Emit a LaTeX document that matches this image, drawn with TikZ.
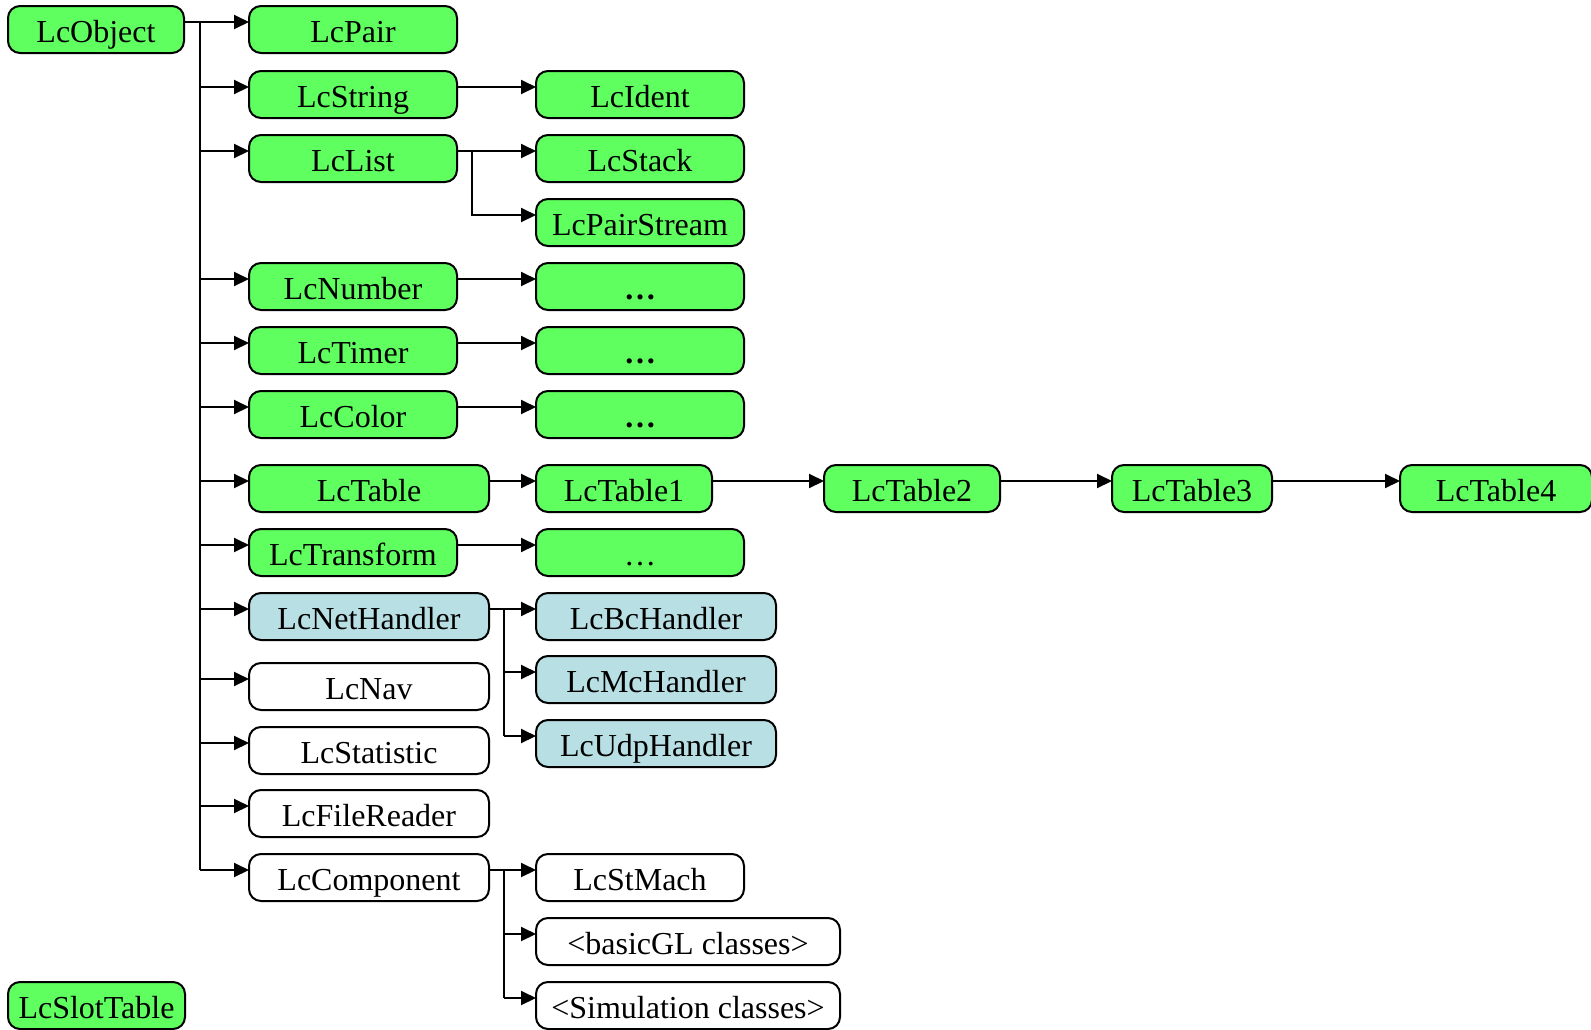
\documentclass[tikz,border=0pt]{standalone}
\usepackage{fontspec}
\setmainfont{Liberation Serif}
\usetikzlibrary{arrows.meta,calc}
\definecolor{clsgreen}{RGB}{96,255,96}
\definecolor{netblue}{RGB}{184,224,228}
\begin{document}
\begin{tikzpicture}[x=1pt,y=-1pt,
  cls/.style={draw=black, line width=2pt, rounded corners=12pt,
    minimum height=47pt, inner sep=0pt, outer sep=0pt,
    text height=30pt, text depth=5pt,
    font=\fontsize{32}{38}\selectfont, anchor=north west},
  core/.style={cls, fill=clsgreen},
  net/.style={cls, fill=netblue},
  plain/.style={cls, fill=white},
  conn/.style={draw=black, line width=2pt},
  arr/.style={conn, -{Triangle[length=15pt,width=14pt]}}
]
\useasboundingbox (0,0) rectangle (1591,1029);

% root classes
\node[core, minimum width=176pt] (obj) at (8,6) {LcObject};
\node[core, minimum width=177pt] (slot) at (8,982) {LcSlotTable};

% first level
\node[core, minimum width=208pt] (pair)   at (249,6)   {LcPair};
\node[core, minimum width=208pt] (string) at (249,71)  {LcString};
\node[core, minimum width=208pt] (list)   at (249,135) {LcList};
\node[core, minimum width=208pt] (number) at (249,263) {LcNumber};
\node[core, minimum width=208pt] (timer)  at (249,327) {LcTimer};
\node[core, minimum width=208pt] (color)  at (249,391) {LcColor};
\node[core, minimum width=240pt] (table)  at (249,465) {LcTable};
\node[core, minimum width=208pt] (trans)  at (249,529) {LcTransform};
\node[net,  minimum width=240pt] (nethd)  at (249,593) {LcNetHandler};
\node[plain,minimum width=240pt] (nav)    at (249,663) {LcNav};
\node[plain,minimum width=240pt] (stat)   at (249,727) {LcStatistic};
\node[plain,minimum width=240pt] (file)   at (249,790) {LcFileReader};
\node[plain,minimum width=240pt] (comp)   at (249,854) {LcComponent};

% second level
\node[core, minimum width=208pt] (ident)  at (536,71)  {LcIdent};
\node[core, minimum width=208pt] (stack)  at (536,135) {LcStack};
\node[core, minimum width=208pt] (pstrm)  at (536,199) {LcPairStream};
\node[core, minimum width=208pt] (numx)   at (536,263) {\textbf{…}};
\node[core, minimum width=208pt] (timx)   at (536,327) {\textbf{…}};
\node[core, minimum width=208pt] (colx)   at (536,391) {\textbf{…}};
\node[core, minimum width=176pt] (tab1)   at (536,465) {LcTable1};
\node[core, minimum width=176pt] (tab2)   at (824,465) {LcTable2};
\node[core, minimum width=160pt] (tab3)   at (1112,465) {LcTable3};
\node[core, minimum width=192pt] (tab4)   at (1400,465) {LcTable4};
\node[core, minimum width=208pt] (trax)   at (536,529) {…};
\node[net,  minimum width=240pt] (bc)     at (536,593) {LcBcHandler};
\node[net,  minimum width=240pt] (mc)     at (536,656) {LcMcHandler};
\node[net,  minimum width=240pt] (udp)    at (536,720) {LcUdpHandler};
\node[plain,minimum width=208pt] (stm)    at (536,854) {LcStMach};
\node[plain,minimum width=304pt] (gl)     at (536,918) {<basicGL classes>};
\node[plain,minimum width=304pt] (sim)    at (536,982) {<Simulation classes>};

% connection ports, a little above the vertical middle of each box
\foreach \n in {obj,pair,string,list,number,timer,color,table,trans,nethd,nav,stat,file,comp,
                ident,stack,pstrm,numx,timx,colx,tab1,tab2,tab3,tab4,trax,bc,mc,udp,stm,gl,sim}{
  \coordinate (\n-in)  at ([yshift=7.5pt]\n.west);
  \coordinate (\n-out) at ([yshift=7.5pt]\n.east);
}

% vertical branch lines
\coordinate (trunk) at (200,0);
\coordinate (lsplit) at (472,0);
\coordinate (nsplit) at (504,0);
\coordinate (csplit) at (504,0);

% LcObject hierarchy trunk
\draw[conn] (obj-out) -- (trunk |- obj-out) -- (trunk |- comp-in);
\foreach \n in {pair,string,list,number,timer,color,table,trans,nethd,nav,stat,file,comp}
  \draw[arr] (trunk |- \n-in) -- (\n-in);

% single successors
\draw[arr] (string-out) -- (ident-in);
\draw[arr] (number-out) -- (numx-in);
\draw[arr] (timer-out) -- (timx-in);
\draw[arr] (color-out) -- (colx-in);
\draw[arr] (table-out) -- (tab1-in);
\draw[arr] (tab1-out) -- (tab2-in);
\draw[arr] (tab2-out) -- (tab3-in);
\draw[arr] (tab3-out) -- (tab4-in);
\draw[arr] (trans-out) -- (trax-in);

% LcList branch
\draw[arr] (list-out) -- (stack-in);
\draw[arr] (lsplit |- list-out) |- (pstrm-in);

% LcNetHandler branch
\draw[arr] (nethd-out) -- (bc-in);
\draw[conn] (nsplit |- bc-in) -- (nsplit |- udp-in);
\draw[arr] (nsplit |- mc-in) -- (mc-in);
\draw[arr] (nsplit |- udp-in) -- (udp-in);

% LcComponent branch
\draw[arr] (comp-out) -- (stm-in);
\draw[conn] (csplit |- stm-in) -- (csplit |- sim-in);
\draw[arr] (csplit |- gl-in) -- (gl-in);
\draw[arr] (csplit |- sim-in) -- (sim-in);
\end{tikzpicture}
\end{document}
